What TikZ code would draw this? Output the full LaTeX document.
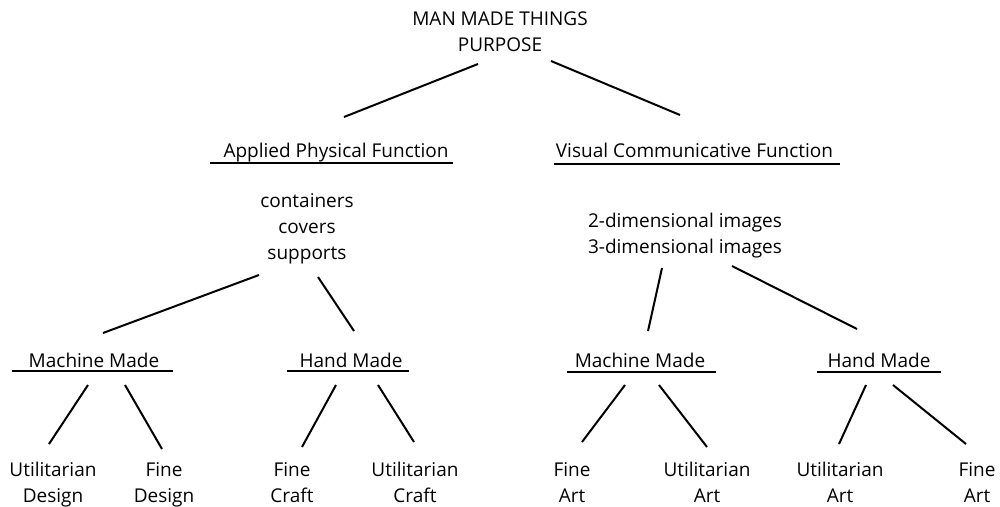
\documentclass[tikz,border=0pt]{standalone}
\usepackage{fontspec}
\setmainfont{Open Sans}
\usepackage{tikz}

\begin{document}
\begin{tikzpicture}[x = 1pt, y = -1pt, line width = 2pt,
    txt/.style = {anchor = base, inner sep = 0pt, align = center,
      font = \fontsize{19}{26}\selectfont}]
      \useasboundingbox (0, 0) rectangle (1000, 506);
      % labels (base = last line)
      \node[txt] (top) at (500, 51) {MAN MADE THINGS\\PURPOSE};
      \node[txt] (apf) at (336, 157) {Applied Physical Function};
      \node[txt] (vcf) at (694.5, 157) {Visual Communicative Function};
      \node[txt] (phys) at (307, 259) {containers\\covers\\supports};
      \node[txt] (imgs) at (685, 253) {2-dimensional images\\3-dimensional images};
      \node[txt] (mmA) at (94, 367) {Machine Made};
      \node[txt] (hmA) at (351, 367) {Hand Made};
      \node[txt] (mmB) at (640, 367) {Machine Made};
      \node[txt] (hmB) at (879, 367) {Hand Made};
      \node[txt] (ud) at (53, 502) {Utilitarian\\Design};
      \node[txt] (fd) at (164, 502) {Fine\\Design};
      \node[txt] (fc) at (292, 502) {Fine\\Craft};
      \node[txt] (uc) at (415, 502) {Utilitarian\\Craft};
      \node[txt] (faA) at (572, 502) {Fine\\Art};
      \node[txt] (uaA) at (707, 502) {Utilitarian\\Art};
      \node[txt] (uaB) at (840, 502) {Utilitarian\\Art};
      \node[txt] (faB) at (977, 502) {Fine\\Art};
      % underlines
      \draw ([shift={(-126, 6)}]apf.base) -- ([shift={(117, 6)}]apf.base);
      \draw ([shift={(-140.5, 7)}]vcf.base) -- ([shift={(145.5, 7)}]vcf.base);
      \draw ([shift={(-82, 4)}]mmA.base) -- ([shift={(79, 4)}]mmA.base);
      \draw ([shift={(-64, 4)}]hmA.base) -- ([shift={(58, 4)}]hmA.base);
      \draw ([shift={(-73, 5)}]mmB.base) -- ([shift={(76, 5)}]mmB.base);
      \draw ([shift={(-62, 5)}]hmB.base) -- ([shift={(62, 5)}]hmB.base);
      % branches
      \draw ([shift={(-22, 13)}]top.base) -- ([shift={(8, -40)}]apf.base);
      \draw ([shift={(51, 10)}]top.base) -- ([shift={(-14.5, -42)}]vcf.base);
      \draw ([shift={(-48, 16)}]phys.base) -- ([shift={(9, -34)}]mmA.base);
      \draw ([shift={(11, 18)}]phys.base) -- ([shift={(3, -36)}]hmA.base);
      \draw ([shift={(-6, 18)}]mmA.base) -- ([shift={(-4, -58)}]ud.base);
      \draw ([shift={(31, 18)}]mmA.base) -- ([shift={(-2, -53)}]fd.base);
      \draw ([shift={(-15, 18)}]hmA.base) -- ([shift={(10, -55)}]fc.base);
      \draw ([shift={(27, 18)}]hmA.base) -- ([shift={(-1, -60)}]uc.base);
      \draw ([shift={(-23, 15)}]imgs.base) -- ([shift={(8, -36)}]mmB.base);
      \draw ([shift={(47, 13)}]imgs.base) -- ([shift={(-22, -38)}]hmB.base);
      \draw ([shift={(-15, 18)}]mmB.base) -- ([shift={(10, -60)}]faA.base);
      \draw ([shift={(19, 18)}]mmB.base) -- ([shift={(0, -55)}]uaA.base);
      \draw ([shift={(-13, 18)}]hmB.base) -- ([shift={(-1, -58)}]uaB.base);
      \draw ([shift={(14, 18)}]hmB.base) -- ([shift={(-11, -58)}]faB.base);
    \end{tikzpicture}
\end{document}
